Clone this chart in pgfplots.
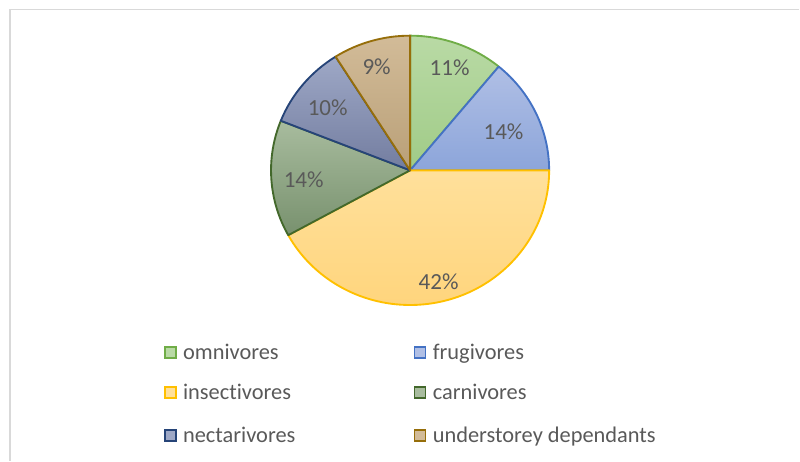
\documentclass[border=0pt]{standalone}
\usepackage{pgfplots}
\pgfplotsset{compat=1.18}
\usepackage{pgfplotstable}
\usepackage{fontspec}
\setmainfont{Carlito}[RawFeature={-liga;-dlig;-clig}]
\definecolor{lbl}{RGB}{89,89,89}
\definecolor{frame}{RGB}{217,217,217}
\definecolor{omT}{RGB}{185,218,165}\definecolor{omB}{RGB}{160,203,135}\definecolor{omD}{RGB}{112,173,71}
\definecolor{frT}{RGB}{176,191,229}\definecolor{frB}{RGB}{140,165,218}\definecolor{frD}{RGB}{68,114,196}
\definecolor{inT}{RGB}{255,224,155}\definecolor{inB}{RGB}{255,213,125}\definecolor{inD}{RGB}{255,192,0}
\definecolor{caT}{RGB}{168,188,158}\definecolor{caB}{RGB}{120,145,110}\definecolor{caD}{RGB}{67,104,43}
\definecolor{neT}{RGB}{158,168,198}\definecolor{neB}{RGB}{115,125,160}\definecolor{neD}{RGB}{38,68,120}
\definecolor{unT}{RGB}{210,187,152}\definecolor{unB}{RGB}{185,160,120}\definecolor{unD}{RGB}{150,110,10}

% share (%), colours, label position (pixels from top-left)
\pgfplotstableread{
share top bot edge lx ly
11 omT omB omD 450 68
14 frT frB frD 504 132
42 inT inB inD 439 282
14 caT caB caD 304 180
10 neT neB neD 328 108
9  unT unB unD 377 67
}\pietable

\begin{document}
\begin{tikzpicture}
\begin{axis}[
  x=0.75pt, y=0.75pt,
  xmin=0, xmax=800, ymin=0, ymax=461,
  hide axis, clip=false, scale only axis,
]
\addplot[draw=none, forget plot] coordinates {(0,0) (800,461)};
\pgfplotsextra{
  \draw[draw=none] (axis cs:0,0) rectangle (axis cs:800,461);
  % chart frame
  \draw[frame, line width=1.2pt] (axis cs:800,451.5) -- (axis cs:10,451.5) -- (axis cs:10,0);
  % wedges
  \gdef\acc{90}
  \foreach \i in {0,...,5}{
    \pgfplotstablegetelem{\i}{share}\of\pietable \let\sh\pgfplotsretval
    \pgfplotstablegetelem{\i}{top}\of\pietable \let\ct\pgfplotsretval
    \pgfplotstablegetelem{\i}{bot}\of\pietable \let\cb\pgfplotsretval
    \pgfplotstablegetelem{\i}{edge}\of\pietable \let\cd\pgfplotsretval
    \pgfmathsetmacro\st{\acc}
    \pgfmathsetmacro\en{\acc-3.6*\sh}
    \shadedraw[top color=\ct, bottom color=\cb, draw=\cd, line width=1.4pt, line join=round]
      (axis cs:410.5,290.5) -- ++(\st:104.4pt and 101.1pt)
      arc[start angle=\st, end angle=\en, x radius=104.4pt, y radius=101.1pt] -- cycle;
    \xdef\acc{\en}
  }
  % data labels
  \foreach \i in {0,...,5}{
    \pgfplotstablegetelem{\i}{share}\of\pietable \let\sh\pgfplotsretval
    \pgfplotstablegetelem{\i}{lx}\of\pietable \let\lx\pgfplotsretval
    \pgfplotstablegetelem{\i}{ly}\of\pietable \let\ly\pgfplotsretval
    \pgfmathsetmacro\yy{461-\ly}
    \node[text=lbl, inner sep=0pt, font=\fontsize{17.3}{19}\selectfont] at (axis cs:\lx,\yy) {\sh\%};
  }
  % legend
  \foreach \mx/\tx/\by/\name/\ct/\cd in {
     165/183/359.5/omnivores/omT/omD,
     415/433/359.5/frugivores/frT/frD,
     165/183/399.5/insectivores/inT/inD,
     415/433/399.5/carnivores/caT/caD,
     165/183/442.5/nectarivores/neT/neD,
     415/433/442.5/understorey dependants/unT/unD}{
    \pgfmathsetmacro\yb{461-\by}
    \pgfmathsetmacro\ya{\yb+1}
    \pgfmathsetmacro\yc{\yb+12}
    \pgfmathsetmacro\mxb{\mx+11}
    \draw[fill=\ct, draw=\cd, line width=1.1pt] (axis cs:\mx,\ya) rectangle (axis cs:\mxb,\yc);
    \node[anchor=base west, inner sep=0pt, text=lbl, font=\fontsize{16.8}{18}\selectfont] at (axis cs:\tx,\yb) {\name};
  }
}
\end{axis}
\end{tikzpicture}
\end{document}
